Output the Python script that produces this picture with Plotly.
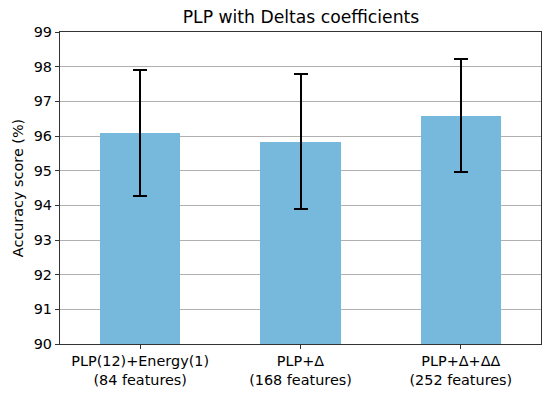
import plotly.graph_objects as go

categories = ["PLP(12)+Energy(1)<br>(84 features)", "PLP+Δ<br>(168 features)", "PLP+Δ+ΔΔ<br>(252 features)"]
accuracy = [96.08, 95.84, 96.59]
errors = [1.82, 1.96, 1.64]
y_ticks = [90, 91, 92, 93, 94, 95, 96, 97, 98, 99]

fig = go.Figure()
fig.add_trace(go.Bar(
    x=list(range(len(categories))),
    y=accuracy,
    width=0.5,
    marker=dict(color="#76b9dc", line=dict(width=0)),
    error_y=dict(type="data", array=errors, visible=True, color="black", thickness=2, width=7),
))

fig.update_layout(
    width=550, height=393,
    margin=dict(l=60, r=9, t=32, b=49),
    paper_bgcolor="white", plot_bgcolor="white",
    font=dict(family="DejaVu Sans", size=14.4, color="black"),
    title=dict(text="PLP with Deltas coefficients", x=301/550, xanchor="center", y=1 - 17/393, yanchor="middle",
               font=dict(size=17.2)),
    showlegend=False,
    bargap=0,
)
fig.update_xaxes(
    range=[-0.5, 2.5], automargin=False,
    tickmode="array", tickvals=list(range(len(categories))), ticktext=categories,
    showline=True, mirror=True, linecolor="#333", linewidth=1.2,
    ticks="outside", ticklen=4, tickcolor="#333",
    showgrid=False, zeroline=False,
)
fig.update_yaxes(
    range=[90, 99], automargin=False,
    tickmode="array", tickvals=y_ticks,
    showline=True, mirror=True, linecolor="#333", linewidth=1.2,
    ticks="outside", ticklen=4, tickcolor="#333",
    showgrid=True, gridcolor="#b0b0b0", gridwidth=1,
    zeroline=False,
    title=dict(text="Accuracy score (%)", standoff=6, font=dict(size=14.4)),
)
fig.layout.yaxis.layer = "below traces"

fig.write_html("out.html", config={"displayModeBar": False},
               post_script="document.body.style.margin='0';")
